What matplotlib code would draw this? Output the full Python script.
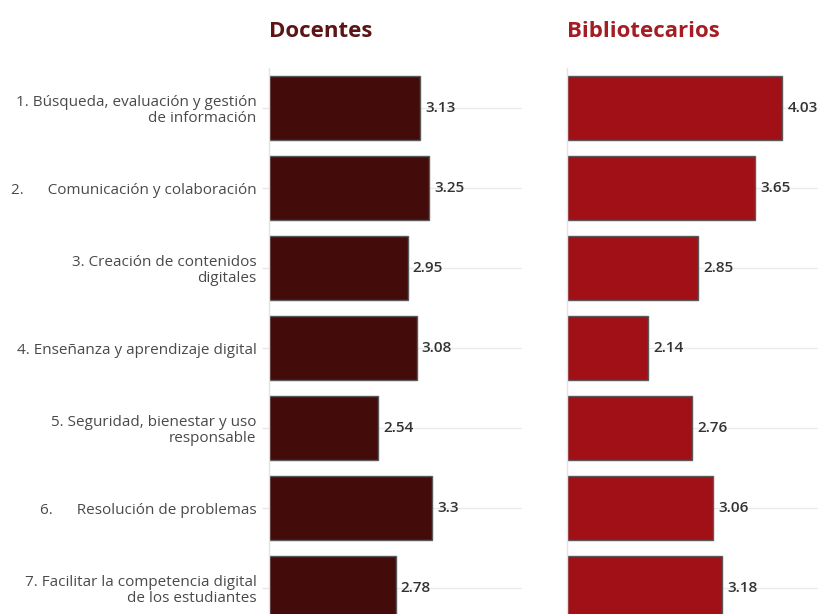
import matplotlib.pyplot as plt
import numpy as np

plt.rcParams["font.family"] = ["Open Sans", "DejaVu Sans"]

categories = [
    "1. Búsqueda, evaluación y gestión\nde información",
    "2.      Comunicación y colaboración",
    "3. Creación de contenidos\ndigitales",
    "4. Enseñanza y aprendizaje digital",
    "5. Seguridad, bienestar y uso\nresponsable",
    "6.      Resolución de problemas",
    "7. Facilitar la competencia digital\nde los estudiantes",
]
docentes = [3.13, 3.25, 2.95, 3.08, 2.54, 3.30, 2.78]
docentes_txt = ["3.13", "3.25", "2.95", "3.08", "2.54", "3.3", "2.78"]
bibliotecarios = [4.03, 3.65, 2.85, 2.14, 2.76, 3.06, 3.18]
bibliotecarios_txt = ["4.03", "3.65", "2.85", "2.14", "2.76", "3.06", "3.18"]

W, H = 818, 614
fig = plt.figure(figsize=(W / 100, H / 100), dpi=100)


def px_axes(x0, y0, x1, y1):
    # pixel box (top-left origin) -> figure fraction
    return fig.add_axes([x0 / W, 1 - y1 / H, (x1 - x0) / W, (y1 - y0) / H])


ax1 = px_axes(269, 68, 522, 628)
ax2 = px_axes(567, 68, 820, 628)

y = np.arange(len(categories))
panels = [
    (ax1, docentes, docentes_txt, "#440b0b", "Docentes", "#5c1414"),
    (ax2, bibliotecarios, bibliotecarios_txt, "#a01016", "Bibliotecarios", "#a51d24"),
]
for ax, vals, txts, color, title, tcolor in panels:
    base = 1.0
    ax.barh(y, np.array(vals) - base, left=base, height=0.81, color=color,
            edgecolor="#5a5a5a", linewidth=1.0, zorder=2)
    for yi, v, t in zip(y, vals, txts):
        ax.text(v + 0.07, yi, t, va="center", ha="left", fontsize=11,
                fontweight="semibold", color="#333333", zorder=3)
    ax.set_xlim(1, 4.56)
    ax.set_ylim(len(categories) - 0.5, -0.5)
    ax.set_xticks([])
    ax.set_yticks(y)
    ax.grid(axis="y", color="#ebebeb", linewidth=1.0, zorder=0)
    ax.tick_params(axis="y", length=5, color="#e6e6e6", width=1.0, pad=4)
    for s in ["top", "right", "bottom"]:
        ax.spines[s].set_visible(False)
    ax.spines["left"].set_color("#e3e3e3")
    ax.spines["left"].set_linewidth(1.0)
    ax.set_title(title, loc="left", fontsize=16, fontweight="bold", color=tcolor,
                 pad=22)

ax1.set_yticklabels(categories, fontsize=11, color="#4a4a4a", linespacing=1.05)
ax2.set_yticklabels([])
ax2.tick_params(axis="y", length=0)

fig.savefig("out.png", dpi=100)
